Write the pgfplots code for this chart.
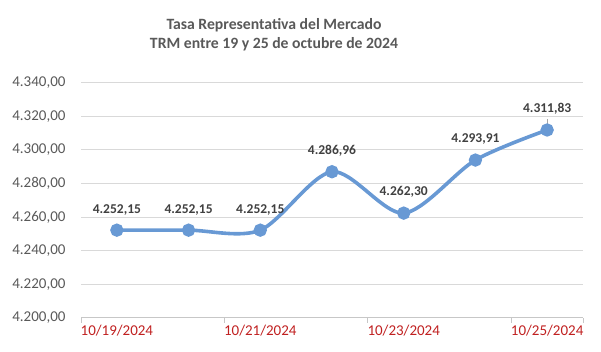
\documentclass[border=0pt]{standalone}
\usepackage{pgfplots}
\pgfplotsset{compat=1.18}
\usepackage{fontspec}
\setmainfont{Carlito}
\definecolor{linecol}{RGB}{104,153,212}
\definecolor{txtgray}{RGB}{89,89,89}
\definecolor{lblcol}{RGB}{64,64,64}
\definecolor{datecol}{RGB}{192,32,32}
\definecolor{gridcol}{RGB}{217,217,217}
\begin{document}
\begin{tikzpicture}
\begin{axis}[
  name=ax,
  scale only axis,
  width=502pt, height=235pt,
  xmin=-0.5, xmax=6.5,
  ymin=4200, ymax=4340,
  ytick={4200,4220,4240,4260,4280,4300,4320,4340},
  scaled y ticks=false,
  yticklabel={\pgfmathprintnumber[fixed,fixed zerofill,precision=2,use comma,1000 sep={.},assume math mode=true]{\tick}},
  xtick={0,2,4,6},
  xticklabels={10/19/2024,10/21/2024,10/23/2024,10/25/2024},
  extra x ticks={-0.5,1.5,3.5,5.5,6.5},
  extra x tick labels={},
  extra x tick style={grid=none, major tick length=5pt, tick style={draw=gridcol!80!gray, line width=0.8pt}},
  major tick length=0pt,
  tick align=outside,
  ymajorgrids,
  grid style={draw=gridcol, line width=0.9pt},
  separate axis lines,
  axis x line*=bottom,
  axis y line*=left,
  x axis line style={draw=gridcol!80!gray, line width=0.9pt, -},
  y axis line style={draw=none},
  ytick style={draw=none},
  tick label style={font=\fontsize{15}{18}\selectfont},
  yticklabel style={text=txtgray, xshift=-12pt},
  xticklabel style={text=datecol, yshift=-4pt},
  clip=false,
]
\addplot[draw=none, forget plot, error bars/.cd, y dir=plus, y explicit, error mark=none, error bar style={draw=gray!70, line width=0.6pt}]
  coordinates {(6,4311.83) +- (0,6.5)};
\addplot[color=linecol, line width=3.6pt, smooth, mark=*, mark size=4.8pt, mark options={fill=linecol, draw=none},
  nodes near coords={\pgfmathprintnumber[fixed,fixed zerofill,precision=2,use comma,1000 sep={.},assume math mode=true]{\pgfplotspointmeta}},
  every node near coord/.append style={font=\bfseries\fontsize{13.5}{16}\selectfont, text=lblcol, anchor=south, inner sep=0pt, yshift=13.5pt}]
  coordinates {
    (0,4252.15)
    (1,4252.15)
    (2,4252.15)
    (3,4286.96)
    (4,4262.30)
    (5,4293.91)
    (6,4311.83)
  };
\end{axis}
\node[font=\bfseries\fontsize{15.7}{19.5}\selectfont, text=txtgray, align=center] at ([xshift=193pt,yshift=48pt]ax.north west) {Tasa Representativa del Mercado\\TRM entre 19 y 25 de octubre de 2024};
\pgfresetboundingbox
\path[use as bounding box] ([xshift=-81pt,yshift=-34.3pt]ax.south west) rectangle ([xshift=18pt,yshift=82.7pt]ax.north east);
\end{tikzpicture}
\end{document}
